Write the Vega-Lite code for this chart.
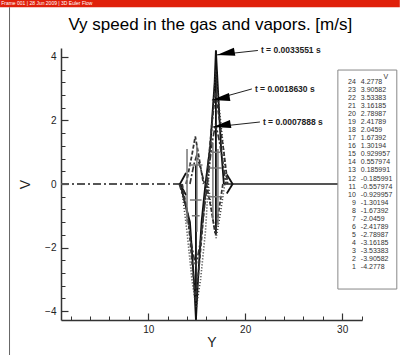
{
  "$schema": "https://vega.github.io/schema/vega-lite/v6.json",
  "width": 301,
  "height": 272,
  "autosize": "none",
  "padding": {"left": 61, "top": 48, "right": 38, "bottom": 35},
  "background": "white",
  "config": {"view": {"stroke": null}, "font": "Liberation Sans"},
  "datasets": {
    "lines": [
      {"s": "a", "g": "base", "x": 17.8, "v": 0}, {"s": "a", "g": "base", "x": 32.05, "v": 0},
      {"s": "l", "g": "far", "x": 1.0, "v": 0}, {"s": "l", "g": "far", "x": 13.3, "v": 0},
      {"s": "b", "g": "t3", "x": 13.3, "v": 0}, {"s": "b", "g": "t3", "x": 14.3, "v": -1.2}, {"s": "b", "g": "t3", "x": 14.75, "v": -3.2}, {"s": "b", "g": "t3", "x": 14.92, "v": -4.27}, {"s": "b", "g": "t3", "x": 15.1, "v": -3.2}, {"s": "b", "g": "t3", "x": 15.5, "v": -1.2}, {"s": "b", "g": "t3", "x": 15.9, "v": 0}, {"s": "b", "g": "t3", "x": 16.4, "v": 1.2}, {"s": "b", "g": "t3", "x": 16.85, "v": 3.2}, {"s": "b", "g": "t3", "x": 16.98, "v": 4.2}, {"s": "b", "g": "t3", "x": 17.15, "v": 3.2}, {"s": "b", "g": "t3", "x": 17.5, "v": 1.2}, {"s": "b", "g": "t3", "x": 17.8, "v": 0},
      {"s": "c", "g": "t3", "x": 14.92, "v": 0.6}, {"s": "c", "g": "t3", "x": 14.92, "v": -4.27},
      {"s": "d", "g": "t3", "x": 16.98, "v": -1.6}, {"s": "d", "g": "t3", "x": 16.98, "v": 4.2},
      {"s": "m", "g": "t3", "x": 13.9, "v": 0.35}, {"s": "m", "g": "t3", "x": 13.27, "v": 0}, {"s": "m", "g": "t3", "x": 13.9, "v": -0.35},
      {"s": "n", "g": "t3", "x": 18.1, "v": 0.3}, {"s": "n", "g": "t3", "x": 18.7, "v": 0}, {"s": "n", "g": "t3", "x": 18.1, "v": -0.3},
      {"s": "e", "g": "t2", "x": 13.5, "v": 0}, {"s": "e", "g": "t2", "x": 14.1, "v": -1.0}, {"s": "e", "g": "t2", "x": 14.5, "v": -2.4}, {"s": "e", "g": "t2", "x": 14.9, "v": -3.7}, {"s": "e", "g": "t2", "x": 15.3, "v": -2.4}, {"s": "e", "g": "t2", "x": 15.7, "v": -1.0}, {"s": "e", "g": "t2", "x": 16.0, "v": 0}, {"s": "e", "g": "t2", "x": 16.3, "v": 1.0}, {"s": "e", "g": "t2", "x": 16.6, "v": 2.0}, {"s": "e", "g": "t2", "x": 16.95, "v": 2.9}, {"s": "e", "g": "t2", "x": 17.35, "v": 2.0}, {"s": "e", "g": "t2", "x": 17.8, "v": 1.0}, {"s": "e", "g": "t2", "x": 18.2, "v": 0},
      {"s": "f", "g": "t2", "x": 16.0, "v": 0}, {"s": "f", "g": "t2", "x": 16.5, "v": -0.8}, {"s": "f", "g": "t2", "x": 16.9, "v": -1.55}, {"s": "f", "g": "t2", "x": 17.3, "v": -0.8}, {"s": "f", "g": "t2", "x": 17.7, "v": 0},
      {"s": "g", "g": "t2", "x": 13.9, "v": 0}, {"s": "g", "g": "t2", "x": 14.5, "v": 0.9}, {"s": "g", "g": "t2", "x": 14.85, "v": 1.5}, {"s": "g", "g": "t2", "x": 15.2, "v": 0.9}, {"s": "g", "g": "t2", "x": 15.7, "v": 0},
      {"s": "h", "g": "t1", "x": 13.2, "v": 0}, {"s": "h", "g": "t1", "x": 13.9, "v": -0.7}, {"s": "h", "g": "t1", "x": 14.4, "v": -1.8}, {"s": "h", "g": "t1", "x": 14.9, "v": -2.6}, {"s": "h", "g": "t1", "x": 15.4, "v": -1.8}, {"s": "h", "g": "t1", "x": 15.8, "v": -0.7}, {"s": "h", "g": "t1", "x": 16.1, "v": 0}, {"s": "h", "g": "t1", "x": 16.35, "v": 0.7}, {"s": "h", "g": "t1", "x": 16.65, "v": 1.4}, {"s": "h", "g": "t1", "x": 16.95, "v": 1.9}, {"s": "h", "g": "t1", "x": 17.3, "v": 1.4}, {"s": "h", "g": "t1", "x": 17.7, "v": 0.7}, {"s": "h", "g": "t1", "x": 18.0, "v": 0},
      {"s": "i", "g": "t1", "x": 14.3, "v": 0}, {"s": "i", "g": "t1", "x": 14.7, "v": 0.6}, {"s": "i", "g": "t1", "x": 15.0, "v": 0.9}, {"s": "i", "g": "t1", "x": 15.4, "v": 0.5}, {"s": "i", "g": "t1", "x": 15.8, "v": 0},
      {"s": "j", "g": "t0", "x": 13.4, "v": 0}, {"s": "j", "g": "t0", "x": 14.0, "v": -1.5}, {"s": "j", "g": "t0", "x": 14.5, "v": -3.0}, {"s": "j", "g": "t0", "x": 14.95, "v": -3.9}, {"s": "j", "g": "t0", "x": 15.4, "v": -3.0}, {"s": "j", "g": "t0", "x": 15.9, "v": -1.5}, {"s": "j", "g": "t0", "x": 16.2, "v": 0}, {"s": "j", "g": "t0", "x": 16.45, "v": 1.3}, {"s": "j", "g": "t0", "x": 16.75, "v": 2.6}, {"s": "j", "g": "t0", "x": 16.95, "v": 3.6}, {"s": "j", "g": "t0", "x": 17.25, "v": 2.6}, {"s": "j", "g": "t0", "x": 17.7, "v": 1.3}, {"s": "j", "g": "t0", "x": 18.1, "v": 0},
      {"s": "k", "g": "t0", "x": 16.2, "v": 0}, {"s": "k", "g": "t0", "x": 16.6, "v": -1.0}, {"s": "k", "g": "t0", "x": 17.0, "v": -1.7}, {"s": "k", "g": "t0", "x": 17.4, "v": -1.0}, {"s": "k", "g": "t0", "x": 17.9, "v": 0},
      {"s": "p", "g": "vec", "x": 14.0, "v": 1.1}, {"s": "p", "g": "vec", "x": 14.0, "v": -1.2},
      {"s": "q", "g": "vec", "x": 15.02, "v": 1.2}, {"s": "q", "g": "vec", "x": 15.02, "v": -1.5},
      {"s": "r", "g": "vec", "x": 16.67, "v": 1.3}, {"s": "r", "g": "vec", "x": 16.67, "v": -1.1},
      {"s": "w", "g": "vec", "x": 17.19, "v": 1.1}, {"s": "w", "g": "vec", "x": 17.19, "v": -1.3},
      {"s": "u1", "g": "vec", "x": 14.2, "v": 0.6}, {"s": "u1", "g": "vec", "x": 15.6, "v": 0.6},
      {"s": "u2", "g": "vec", "x": 14.3, "v": -0.5}, {"s": "u2", "g": "vec", "x": 15.5, "v": -0.5},
      {"s": "u3", "g": "vec", "x": 14.5, "v": -1.0}, {"s": "u3", "g": "vec", "x": 15.3, "v": -1.0},
      {"s": "u4", "g": "vec", "x": 16.3, "v": 0.5}, {"s": "u4", "g": "vec", "x": 17.6, "v": 0.5},
      {"s": "u5", "g": "vec", "x": 16.2, "v": -0.4}, {"s": "u5", "g": "vec", "x": 17.7, "v": -0.4},
      {"s": "u6", "g": "vec", "x": 16.5, "v": 1.0}, {"s": "u6", "g": "vec", "x": 17.4, "v": 1.0}
    ],
    "arrows": [
      {"label": "t = 0.0033551 s", "x": 17.08, "v": 4.06, "x2": 21.31, "v2": 4.2},
      {"label": "t = 0.0018630 s", "x": 16.57, "v": 2.64, "x2": 20.69, "v2": 2.99},
      {"label": "t = 0.0007888 s", "x": 16.67, "v": 1.79, "x2": 21.52, "v2": 1.95}
    ],
    "levels": [
      {"lvl": 24, "val": "4.2778"}, {"lvl": 23, "val": "3.90582"}, {"lvl": 22, "val": "3.53383"}, {"lvl": 21, "val": "3.16185"},
      {"lvl": 20, "val": "2.78987"}, {"lvl": 19, "val": "2.41789"}, {"lvl": 18, "val": "2.0459"}, {"lvl": 17, "val": "1.67392"},
      {"lvl": 16, "val": "1.30194"}, {"lvl": 15, "val": "0.929957"}, {"lvl": 14, "val": "0.557974"}, {"lvl": 13, "val": "0.185991"},
      {"lvl": 12, "val": "-0.185991"}, {"lvl": 11, "val": "-0.557974"}, {"lvl": 10, "val": "-0.929957"}, {"lvl": 9, "val": "-1.30194"},
      {"lvl": 8, "val": "-1.67392"}, {"lvl": 7, "val": "-2.0459"}, {"lvl": 6, "val": "-2.41789"}, {"lvl": 5, "val": "-2.78987"},
      {"lvl": 4, "val": "-3.16185"}, {"lvl": 3, "val": "-3.53383"}, {"lvl": 2, "val": "-3.90582"}, {"lvl": 1, "val": "-4.2778"}
    ]
  },
  "layer": [
    {
      "layer": [
        {
          "data": {"values": [{"label": "Frame 001 | 28 Jun 2009 | 3D Euler Flow"}]},
          "mark": {"type": "rect", "color": "#e0200a"},
          "encoding": {
            "x": {"datum": -5.29, "type": "quantitative", "scale": {"domain": [1, 32.05], "nice": false, "zero": false}, "axis": null},
            "x2": {"datum": 35.95},
            "y": {"datum": 5.8, "type": "quantitative", "scale": {"domain": [-4.2778, 4.2778], "nice": false, "zero": false}, "axis": null},
            "y2": {"datum": 5.56}
          }
        },
        {
          "data": {"values": [{"label": "Frame 001 | 28 Jun 2009 | 3D Euler Flow"}]},
          "mark": {"type": "text", "align": "left", "baseline": "middle", "fontSize": 5, "color": "white"},
          "encoding": {
            "x": {"datum": -5.17, "type": "quantitative", "axis": null},
            "y": {"datum": 5.68, "type": "quantitative", "axis": null},
            "text": {"field": "label"}
          }
        },
        {
          "data": {"values": [{"label": "Vy speed in the gas and vapors. [m/s]"}]},
          "mark": {"type": "text", "align": "center", "baseline": "alphabetic", "fontSize": 17, "color": "#000"},
          "encoding": {
            "x": {"datum": 16.4, "type": "quantitative", "axis": null},
            "y": {"datum": 4.83, "type": "quantitative", "axis": null},
            "text": {"field": "label"}
          }
        },
        {
          "data": {"values": [{"label": "frame"}]},
          "mark": {"type": "rule", "color": "#666", "strokeWidth": 1},
          "encoding": {
            "x": {"datum": -4.31, "type": "quantitative", "axis": null},
            "y": {"datum": 5.56, "type": "quantitative", "axis": null},
            "y2": {"datum": -5.4}
          }
        },
        {
          "data": {"name": "lines"},
          "mark": {"type": "line", "strokeCap": "butt"},
          "encoding": {
            "x": {"field": "x", "type": "quantitative", "scale": {"domain": [1, 32.05], "nice": false, "zero": false},
              "axis": {"orient": "bottom", "values": [10, 20, 30], "tickSize": -7, "labelFlush": false, "labelOverlap": false,
                "domainColor": "#333", "domainWidth": 1.5, "tickColor": "#333", "tickWidth": 1.2, "labelFont": "Liberation Sans", "labelFontSize": 10, "labelColor": "#222", "labelPadding": 11,
                "title": "Y", "titleFont": "Liberation Sans", "titleFontSize": 14, "titleFontWeight": "normal", "titleColor": "#222", "titlePadding": 1, "grid": false}},
            "y": {"field": "v", "type": "quantitative", "scale": {"domain": [-4.2778, 4.2778], "nice": false, "zero": false},
              "axis": {"orient": "left", "values": [-4, -2, 0, 2, 4], "tickSize": -7, "labelFlush": false, "labelOverlap": false,
                "domainColor": "#333", "domainWidth": 1.5, "tickColor": "#333", "tickWidth": 1.2, "labelFont": "Liberation Sans", "labelFontSize": 10, "labelColor": "#222", "labelPadding": 12,
                "title": "V", "titleFont": "Liberation Sans", "titleFontSize": 14, "titleFontWeight": "normal", "titleColor": "#222", "titlePadding": 12, "grid": false}},
            "detail": {"field": "s"},
            "order": {"value": null},
            "strokeDash": {"field": "g", "type": "nominal", "legend": null, "scale": {"domain": ["base", "far", "t3", "t2", "t1", "t0", "vec"], "range": [[1, 0], [8, 3, 2, 3], [1, 0], [4, 2], [6, 2, 2, 2], [1, 2], [1, 0]]}},
            "color": {"field": "g", "type": "nominal", "legend": null, "scale": {"domain": ["base", "far", "t3", "t2", "t1", "t0", "vec"], "range": ["#555", "#555", "#111", "#333", "#333", "#333", "#777"]}},
            "strokeWidth": {"field": "g", "type": "nominal", "legend": null, "scale": {"domain": ["base", "far", "t3", "t2", "t1", "t0", "vec"], "range": [2, 1.5, 1, 0.8, 0.8, 1.2, 0.7]}}
          }
        },
        {
          "data": {"name": "arrows"},
          "mark": {"type": "rule", "color": "#222", "strokeWidth": 1},
          "encoding": {
            "x": {"field": "x", "type": "quantitative",
              "axis": {"orient": "bottom", "values": [2, 4, 6, 8, 12, 14, 16, 18, 22, 24, 26, 28, 32], "tickSize": -4, "labels": false, "domain": false, "title": null, "grid": false, "tickColor": "#333", "tickWidth": 1}},
            "y": {"field": "v", "type": "quantitative",
              "axis": {"orient": "left", "values": [-3.6, -3.2, -2.8, -2.4, -1.6, -1.2, -0.8, -0.4, 0.4, 0.8, 1.2, 1.6, 2.4, 2.8, 3.2, 3.6], "tickSize": -4, "labels": false, "domain": false, "title": null, "grid": false, "tickColor": "#333", "tickWidth": 1}},
            "x2": {"field": "x2"},
            "y2": {"field": "v2"}
          }
        },
        {
          "data": {"name": "arrows"},
          "mark": {"type": "point", "shape": "M0,0L2,-0.45L2,0.45Z", "size": 324, "filled": true, "color": "#000", "opacity": 1, "angle": -10},
          "encoding": {
            "x": {"field": "x", "type": "quantitative", "axis": null},
            "y": {"field": "v", "type": "quantitative", "axis": null}
          }
        },
        {
          "data": {"name": "arrows"},
          "mark": {"type": "text", "align": "left", "baseline": "middle", "dx": 3, "fontSize": 8.5, "fontWeight": "bold", "color": "#222"},
          "encoding": {
            "x": {"field": "x2", "type": "quantitative", "axis": null},
            "y": {"field": "v2", "type": "quantitative", "axis": null},
            "text": {"field": "label"}
          }
        }
      ],
      "resolve": {"axis": {"x": "independent", "y": "independent"}}
    },
    {
      "layer": [
        {
          "data": {"values": [{"label": "box"}]},
          "mark": {"type": "rect", "fill": "white", "stroke": "#888", "strokeWidth": 1},
          "encoding": {
            "x": {"datum": 29.56, "type": "quantitative", "axis": null},
            "x2": {"datum": 35.64},
            "y": {"datum": 25.49, "type": "quantitative", "scale": {"domain": [-5.59, 28.23], "nice": false, "zero": false}, "axis": null},
            "y2": {"datum": -1.74}
          }
        },
        {
          "data": {"name": "levels"},
          "mark": {"type": "text", "align": "right", "baseline": "middle", "fontSize": 7, "color": "#333"},
          "encoding": {
            "x": {"datum": 31.41, "type": "quantitative", "axis": null},
            "y": {"field": "lvl", "type": "quantitative", "scale": {"domain": [-5.59, 28.23], "nice": false, "zero": false}, "axis": null},
            "text": {"field": "lvl"}
          }
        },
        {
          "data": {"name": "levels"},
          "mark": {"type": "text", "align": "left", "baseline": "middle", "fontSize": 7, "color": "#333"},
          "encoding": {
            "x": {"datum": 31.93, "type": "quantitative", "axis": null},
            "y": {"field": "lvl", "type": "quantitative", "scale": {"domain": [-5.59, 28.23], "nice": false, "zero": false}, "axis": null},
            "text": {"field": "val"}
          }
        },
        {
          "data": {"values": [{"label": "V"}]},
          "mark": {"type": "text", "align": "center", "baseline": "middle", "fontSize": 7, "color": "#333"},
          "encoding": {
            "x": {"datum": 34.5, "type": "quantitative", "axis": null},
            "y": {"datum": 24.65, "type": "quantitative", "scale": {"domain": [-5.59, 28.23], "nice": false, "zero": false}, "axis": null},
            "text": {"field": "label"}
          }
        }
      ]
    }
  ],
  "resolve": {"scale": {"y": "independent"}}
}
